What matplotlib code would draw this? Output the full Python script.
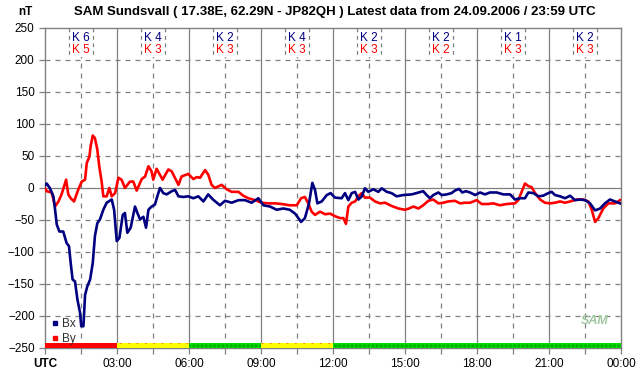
import matplotlib
matplotlib.use("Agg")
import matplotlib.pyplot as plt
from matplotlib.lines import Line2D
import numpy as np

# magnetometer data (hours UTC, nT)
bx_t = [0.0, 0.07, 0.2, 0.35, 0.42, 0.49, 0.6, 0.76, 0.9, 1.0, 1.07, 1.15, 1.25, 1.35,
        1.46, 1.51, 1.6, 1.67, 1.76, 1.88, 1.99, 2.08, 2.18, 2.29, 2.43, 2.57, 2.78, 2.88,
        2.99, 3.1, 3.24, 3.33, 3.43, 3.57, 3.75, 3.85, 3.96, 4.1, 4.21, 4.31, 4.44, 4.58,
        4.68, 4.79, 4.93, 5.07, 5.28, 5.42, 5.56, 5.76, 5.97, 6.18, 6.39, 6.6, 6.8, 7.0,
        7.29, 7.5, 7.78, 8.06, 8.33, 8.61, 8.89, 9.1, 9.38, 9.65, 9.93, 10.2, 10.42, 10.67,
        10.83, 11.0, 11.14, 11.25, 11.35, 11.53, 11.74, 11.9, 12.08, 12.36, 12.5, 12.64,
        12.78, 12.92, 13.06, 13.2, 13.33, 13.47, 13.68, 13.89, 14.03, 14.24, 14.44, 14.65,
        14.93, 15.28, 15.56, 15.76, 15.9, 16.04, 16.18, 16.39, 16.53, 16.74, 16.94, 17.08,
        17.25, 17.39, 17.53, 17.71, 17.92, 18.13, 18.33, 18.54, 18.82, 19.1, 19.38, 19.58,
        19.79, 20.0, 20.14, 20.35, 20.56, 20.76, 20.97, 21.11, 21.25, 21.46, 21.67, 21.88,
        22.08, 22.29, 22.5, 22.71, 22.92, 23.13, 23.33, 23.54, 23.75, 23.96]
bx = [4, 7, 0, -13, -34, -57, -68, -68, -86, -91, -117, -143, -146, -174,
      -195, -216, -216, -167, -154, -143, -117, -75, -55, -49, -34, -23, -18, -34,
      -83, -78, -42, -39, -70, -62, -29, -39, -49, -45, -62, -34, -29, -26,
      -13, 0, -8, -10, -5, -3, -13, -14, -13, -16, -13, -21, -10, -18,
      -27, -20, -23, -19, -19, -23, -16, -27, -29, -34, -32, -34, -40, -53,
      -47, -24, 8, -3, -24, -21, -11, -8, -15, -16, -8, -19,
      -8, -6, -18, -13, -0.5, -6, -2, -6, -0.5, -6, -8, -13,
      -11, -10, -7, -5, -11, -16, -11, -7, -11, -10, -8, -4,
      -1.5, -7, -5, -7, -11, -7, -10, -7, -7, -10, -10, -18,
      -16, -16, -7, -8, -13, -12, -8, -6, -11, -13, -16, -12,
      -19, -18, -19, -24, -35, -32, -24, -18, -21, -24]

by_t = [0.0, 0.07, 0.28, 0.42, 0.56, 0.69, 0.88, 0.97, 1.07, 1.21, 1.39, 1.53, 1.67, 1.74,
        1.85, 1.9, 1.99, 2.08, 2.18, 2.26, 2.36, 2.43, 2.57, 2.68, 2.78, 2.92, 3.06, 3.19,
        3.33, 3.54, 3.68, 3.82, 4.03, 4.17, 4.31, 4.44, 4.51, 4.65, 4.9, 5.14, 5.28, 5.56,
        5.69, 5.97, 6.18, 6.32, 6.46, 6.67, 6.8, 6.94, 7.08, 7.36, 7.57, 7.78, 8.06, 8.26,
        8.47, 8.75, 9.03, 9.3, 9.58, 9.86, 10.2, 10.49, 10.67, 10.83, 10.97, 11.11, 11.25,
        11.46, 11.67, 11.88, 12.08, 12.29, 12.43, 12.54, 12.64, 12.78, 12.92, 13.06, 13.2,
        13.33, 13.54, 13.75, 13.96, 14.17, 14.44, 14.72, 15.0, 15.17, 15.35, 15.56, 15.76,
        15.97, 16.18, 16.39, 16.6, 16.8, 17.08, 17.29, 17.5, 17.71, 17.99, 18.19, 18.47,
        18.68, 18.96, 19.24, 19.58, 19.72, 19.86, 20.0, 20.14, 20.28, 20.42, 20.63, 20.83,
        21.04, 21.25, 21.46, 21.67, 21.88, 22.15, 22.43, 22.64, 22.78, 22.92, 23.06, 23.26,
        23.47, 23.75, 23.96]
by = [0, -5, -7, -29, -21, -10, 13, -10, -16, -21, -2, 10, 13, 39,
      49, 65, 82, 78, 60, 34, 10, -13, -13, 0, -13, -8, 16, 13,
      0, 10, 10, -4, 14, 18, 34, 26, 13, 30, 13, 29, 26, 5,
      18, 22, 14, 17, 16, 28, 21, 5, 0, 5, -2, -6, -6, -12,
      -16, -19, -23, -24, -24, -25, -27, -27, -16, -14, -24, -37, -42,
      -37, -41, -40, -44, -47, -47, -56, -29, -23, -21, -13, -8,
      -15, -15, -21, -24, -23, -28, -32, -34, -32, -29, -32, -27,
      -20, -18, -24, -23, -21, -20, -24, -23, -23, -19, -25, -25,
      -24, -27, -25, -24, -19, -6, 7, 3, 1, -8, -18, -23,
      -24, -23, -21, -23, -21, -18, -18, -21, -34, -53, -47, -32,
      -24, -24, -19]

# K indices per 3 hour block
k_bx = [6, 4, 2, 4, 2, 2, 1, 2]
k_by = [5, 3, 3, 3, 3, 2, 3, 3]

# activity bar: start hour, end hour, state
bar_start = [0, 3, 6, 9, 12]
bar_end = [3, 6, 9, 12, 24]
bar_state = ['red', 'yellow', 'green', 'yellow', 'green']

xlabels = ['UTC', '03:00', '06:00', '09:00', '12:00', '15:00', '18:00', '21:00', '00:00']

blue = '#000080'
red = '#ff0000'
grey = '#808080'

plt.rcParams['font.family'] = ['Liberation Sans', 'DejaVu Sans']
plt.rcParams['hatch.linewidth'] = 1.4

fig = plt.figure(figsize=(6.42, 3.76), dpi=100)
ax = fig.add_axes([45 / 642, 28 / 376, 576 / 642, 320 / 376])
ax.set_xlim(0, 24)
ax.set_ylim(-250, 250)

# grid
for h in np.arange(3, 24, 3):
    ax.axvline(h, color=grey, lw=0.9, zorder=1)
for h in np.arange(1.5, 24, 3):
    ax.axvline(h, color=grey, lw=0.9, ls=(0, (4, 4)), zorder=1)
for v in np.arange(-200, 250, 50):
    if v == 0:
        ax.axhline(v, color=grey, lw=0.9, zorder=1)
    else:
        ax.axhline(v, color=grey, lw=0.9, ls=(0, (4, 4)), zorder=1)

# activity bar
bar_colors = {'red': (red, red, ''), 'yellow': ('#ffff00', red, '..'),
              'green': ('#00dd00', '#00a000', '....')}
for s, e, st in zip(bar_start, bar_end, bar_state):
    fc, hc, hatch = bar_colors[st]
    ax.bar(s, 8, width=e - s, bottom=-250, align='edge', facecolor=fc,
           edgecolor=hc, hatch=hatch, linewidth=0, zorder=3)

ax.plot(bx_t, bx, color=blue, lw=1.9, zorder=5)
ax.plot(by_t, by, color=red, lw=1.9, zorder=4)

# K index labels
for i in range(8):
    c = 3 * i + 1.5
    ax.text(c, 243, 'K %d' % k_bx[i], color=blue, ha='center', va='top', fontsize=8.5,
            bbox=dict(facecolor='white', edgecolor='none', pad=1), zorder=6)
    ax.text(c, 225, 'K %d' % k_by[i], color=red, ha='center', va='top', fontsize=8.5,
            bbox=dict(facecolor='white', edgecolor='none', pad=1), zorder=6)
    for d in (-0.5, 0.5):
        ax.plot([c + d, c + d], [250, 204], color=grey, lw=0.9, ls=(0, (3, 3)), zorder=7)

for sp in ax.spines.values():
    sp.set_color(grey)
    sp.set_linewidth(1.0)

ax.set_xticks(np.arange(0, 25, 3))
ax.set_xticklabels(xlabels, fontsize=8.5)
ax.get_xticklabels()[0].set_fontweight('bold')
ax.set_xticks(np.arange(1.5, 24, 3), minor=True)
ax.set_yticks(np.arange(-250, 251, 50))
ax.tick_params(axis='both', colors=grey, labelcolor='black', labelsize=8.5, length=4, width=0.9)
ax.tick_params(axis='x', which='minor', colors=grey, length=4, width=0.9)
ax.tick_params(axis='x', pad=3)

handles = [Line2D([], [], ls='none', marker='s', markersize=3.5, color=blue),
           Line2D([], [], ls='none', marker='s', markersize=3.5, color=red)]
ax.legend(handles, ['Bx', 'By'], loc='lower left', bbox_to_anchor=(0.0, -0.012), frameon=False,
          fontsize=8.5, handlelength=0.5, handletextpad=0.3, labelspacing=0.2,
          borderaxespad=0.2, labelcolor='#303030')

ax.text(22.9, -208, 'SAM', fontsize=9, color='#a0c8a0', style='italic', fontweight='bold',
        ha='center', va='center', zorder=2)

fig.text(25 / 642, 1 - 12 / 376, 'nT', fontsize=8.5, fontweight='bold', ha='center', va='center')
fig.text(335 / 642, 1 - 12 / 376,
         'SAM Sundsvall ( 17.38E, 62.29N - JP82QH ) Latest data from 24.09.2006 / 23:59 UTC',
         fontsize=9.5, fontweight='bold', ha='center', va='center')

fig.savefig('out.png', dpi=100)
